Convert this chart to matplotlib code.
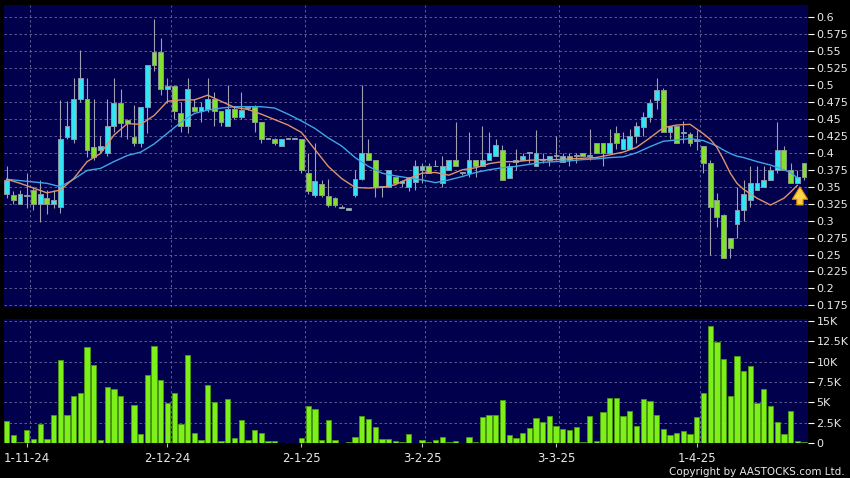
import numpy as np
import matplotlib.pyplot as plt

# --- data (one value per trading day) ---
opens = [.339, .338, .325, .336, .345, .325, .334, .325, .320, .424,
         .420, .479, .479, .409, .404, .399, .439, .474, .449, .424,
         .414, .468, .549, .549, .494, .499, .459, .439, .468, .461,
         .464, .479, .461, .439, .464, .453, .466, .468, .445, .420,
         .420, .410, .420, .420, .420, .370, .338, .354, .337, .333,
         .319, .315, .338, .362, .400, .390, .350, .350, .364, .355,
         .350, .357, .375, .380, .380, .355, .375, .390, .370, .370,
         .390, .381, .390, .395, .404, .363, .386, .390, .400, .381,
         .390, .390, .395, .386, .395, .395, .400, .395, .415, .415,
         .400, .429, .405, .405, .425, .438, .453, .478, .493, .430,
         .439, .429, .428, .417, .410, .385, .330, .309, .274, .295,
         .316, .330, .345, .350, .360, .375, .404, .375, .355, .385]
closes = [.360, .330, .339, .336, .325, .339, .325, .330, .420, .439,
          .479, .510, .404, .394, .410, .439, .474, .444, .444, .414,
          .468, .530, .530, .494, .499, .461, .439, .494, .461, .468,
          .479, .461, .445, .464, .453, .463, .466, .445, .420, .420,
          .414, .420, .420, .420, .374, .343, .359, .338, .323, .323,
          .319, .319, .362, .400, .390, .350, .350, .374, .355, .358,
          .364, .380, .381, .370, .380, .380, .390, .381, .370, .390,
          .380, .390, .400, .411, .360, .381, .390, .395, .400, .400,
          .390, .395, .395, .395, .390, .395, .395, .395, .400, .400,
          .415, .415, .420, .425, .440, .453, .473, .493, .430, .440,
          .415, .429, .414, .417, .385, .320, .305, .245, .259, .315,
          .339, .355, .355, .360, .375, .404, .375, .355, .364, .364]
highs = [.381, .343, .345, .370, .350, .360, .345, .345, .478, .476,
         .510, .551, .510, .479, .425, .479, .510, .494, .450, .471,
         .468, .530, .598, .569, .510, .500, .475, .510, .480, .475,
         .510, .490, .462, .500, .468, .490, .468, .470, .445, .420,
         .422, .420, .420, .420, .420, .400, .414, .360, .362, .335,
         .323, .319, .374, .500, .420, .390, .350, .374, .364, .360,
         .364, .390, .385, .385, .390, .395, .390, .445, .372, .430,
         .390, .440, .430, .421, .411, .385, .405, .400, .400, .434,
         .400, .395, .425, .400, .400, .400, .400, .435, .415, .415,
         .435, .440, .430, .435, .445, .460, .480, .510, .495, .440,
         .440, .447, .430, .433, .410, .390, .340, .310, .275, .350,
         .360, .380, .380, .380, .380, .445, .410, .385, .375, .385]
lows = [.333, .325, .325, .318, .316, .298, .310, .318, .311, .420,
        .414, .475, .394, .390, .400, .395, .430, .424, .420, .410,
        .409, .429, .520, .485, .473, .450, .430, .429, .460, .445,
        .460, .439, .440, .439, .450, .450, .463, .430, .414, .420,
        .412, .410, .420, .420, .370, .339, .335, .335, .320, .320,
        .319, .315, .335, .360, .390, .335, .335, .350, .353, .350,
        .343, .345, .355, .370, .380, .350, .375, .381, .367, .365,
        .365, .381, .390, .395, .360, .363, .375, .390, .385, .381,
        .385, .380, .390, .386, .380, .385, .395, .390, .400, .380,
        .400, .405, .405, .405, .415, .425, .445, .465, .430, .420,
        .415, .415, .410, .404, .370, .250, .290, .245, .245, .275,
        .300, .320, .345, .350, .360, .370, .375, .355, .355, .360]
# volume in thousands
volume_k = [2.7, 1.0, 0.15, 1.6, 0.5, 2.4, 0.5, 3.5, 10.2, 3.5,
            5.8, 6.1, 11.8, 9.6, 0.35, 6.9, 6.6, 5.8, 0.0, 4.7,
            1.1, 8.4, 11.9, 7.7, 4.9, 6.2, 2.4, 10.8, 1.3, 0.4,
            7.1, 5.0, 0.3, 5.4, 0.6, 2.8, 0.4, 1.6, 1.3, 0.25,
            0.25, 0.05, 0.0, 0.0, 0.6, 4.6, 4.2, 0.4, 2.9, 0.4,
            0.05, 0.1, 0.8, 3.3, 3.0, 2.0, 0.5, 0.5, 0.3, 0.15,
            1.1, 0.05, 0.4, 0.1, 0.4, 0.8, 0.2, 0.3, 0.0, 0.8,
            0.1, 3.2, 3.4, 3.4, 5.3, 1.0, 0.6, 1.3, 1.9, 3.1,
            2.6, 3.3, 2.1, 1.8, 1.6, 2.0, 0.1, 3.3, 0.25, 3.8,
            5.5, 5.6, 3.3, 3.9, 2.1, 5.4, 5.2, 3.4, 1.75, 1.0,
            1.3, 1.5, 1.1, 3.2, 6.1, 14.4, 12.4, 10.3, 5.8, 10.7,
            8.8, 9.5, 4.9, 6.6, 4.6, 2.6, 1.1, 4.0, 0.3, 0.1]

# moving averages read at these day indices
ma_days = [0, 2, 4, 6, 8, 10, 12, 14, 16, 18, 20, 22, 24, 26, 28, 30, 32, 34, 36, 38,
           40, 42, 44, 46, 48, 50, 52, 54, 56, 58, 60, 62, 64, 66, 68, 70, 72, 74, 76, 78,
           80, 82, 84, 86, 88, 90, 92, 94, 96, 98, 100, 102, 104, 105, 106, 107, 108, 109, 110,
           112, 114, 116, 117, 118]
ma10 = [.361, .355, .348, .341, .345, .362, .387, .399, .426, .443,
        .442, .455, .476, .478, .478, .485, .476, .467, .464, .457,
        .449, .441, .430, .405, .380, .362, .349, .348, .349, .353,
        .362, .370, .371, .367, .375, .378, .384, .387, .387, .389,
        .390, .390, .391, .392, .393, .397, .401, .408, .422, .437,
        .441, .442, .428, .420, .408, .390, .370, .355, .346,
        .333, .323, .333, .342, .352]
ma20 = [.361, .359, .357, .355, .350, .361, .374, .377, .387, .396,
        .401, .413, .429, .445, .458, .463, .466, .468, .468, .468,
        .466, .457, .447, .436, .422, .410, .393, .380, .370, .366,
        .363, .360, .356, .360, .365, .371, .375, .378, .380, .383,
        .386, .387, .388, .390, .391, .393, .394, .400, .409, .417,
        .419, .421, .418, .414, .410, .404, .399, .395, .393,
        .387, .382, .375, .371, .363]

tick_days = [3, 24, 44, 62, 82, 103]
tick_labels = ['1-11-24', '2-12-24', '2-1-25', '3-2-25', '3-3-25', '1-4-25']
price_ticks = [0.175, 0.2, 0.225, 0.25, 0.275, 0.3, 0.325, 0.35, 0.375, 0.4,
               0.425, 0.45, 0.475, 0.5, 0.525, 0.55, 0.575, 0.6]
price_labels = ['0.175', '0.2', '0.225', '0.25', '0.275', '0.3', '0.325', '0.35', '0.375', '0.4',
                '0.425', '0.45', '0.475', '0.5', '0.525', '0.55', '0.575', '0.6']
vol_ticks = [0, 2.5, 5, 7.5, 10, 12.5, 15]
vol_labels = ['0', '2.5K', '5K', '7.5K', '10K', '12.5K', '15K']

# --- style ---
navy = '#00004c'
up_col = '#33e4f2'
down_col = '#80e22c'
grid_kw = dict(color='#6a6a9a', lw=0.6, ls=(0, (3, 3)))

fig = plt.figure(figsize=(8.5, 4.78), dpi=100, facecolor='black')
ax = fig.add_axes([4 / 850, 1 - 307 / 478, 804 / 850, 302 / 478])
axv = fig.add_axes([4 / 850, 1 - 443.3 / 478, 804 / 850, 124.3 / 478])

x = np.arange(len(closes))
o = np.array(opens)
c = np.array(closes)
up = c >= o

for a in (ax, axv):
    a.set_facecolor(navy)
    for s in a.spines.values():
        s.set_visible(False)
    a.set_xlim(-0.4, 119.6)
    for d in tick_days:
        a.axvline(d + 0.5, zorder=0, **grid_kw)

# price panel
for p in price_ticks:
    ax.axhline(p, zorder=0, **grid_kw)
ax.vlines(x, lows, highs, color='#a0a0b0', lw=0.8, zorder=2)
body_h = np.maximum(np.abs(c - o), 0.0012)
ax.bar(x[up], body_h[up], bottom=np.minimum(o, c)[up], width=0.72,
       color=up_col, edgecolor='#8a9aa8', lw=0.7, zorder=3)
ax.bar(x[~up], body_h[~up], bottom=np.minimum(o, c)[~up], width=0.72,
       color=down_col, edgecolor='#8a9a88', lw=0.7, zorder=3)
ax.plot(ma_days, ma20, color='#3fa6e6', lw=1.0, zorder=4)
ax.plot(ma_days, ma10, color='#e0946a', lw=1.0, zorder=4)

ax.annotate('', xy=(118.4, 0.354), xytext=(118.4, 0.319),
            arrowprops=dict(arrowstyle='simple,head_length=0.9,head_width=1.1,tail_width=0.45',
                            mutation_scale=10, fc='#ffd24a', ec='#d98a00', lw=0.8),
            zorder=6)

ax.set_ylim(0.1726, 0.618)
ax.set_xticks([])
ax.yaxis.tick_right()
ax.set_yticks(price_ticks)
ax.set_yticklabels(price_labels)
ax.tick_params(axis='y', colors='white', labelcolor='#e8e8e8', length=4, width=0.8,
               pad=2, labelsize=8)

# volume panel
for v in vol_ticks:
    axv.axhline(v, zorder=0, **grid_kw)
axv.bar(x, volume_k, width=0.8, color='#7cf018', edgecolor='#4a9a10', lw=0.6, zorder=3)
axv.set_ylim(0, 15.2)
axv.yaxis.tick_right()
axv.set_yticks(vol_ticks)
axv.set_yticklabels(vol_labels)
axv.set_xticks(tick_days)
axv.set_xticklabels(tick_labels)
axv.tick_params(axis='y', colors='white', labelcolor='#e8e8e8', length=4, width=0.8,
                pad=2, labelsize=8)
axv.tick_params(axis='x', colors='#c0c0c0', labelcolor='#e8e8e8', length=3, width=0.8,
                pad=3, labelsize=8.5)

fig.text(0.994, 0.013, 'Copyright by AASTOCKS.com Ltd.', color='#e8e8e8',
         fontsize=7.5, ha='right', va='center')

fig.savefig('out.png', dpi=100, facecolor='black')
